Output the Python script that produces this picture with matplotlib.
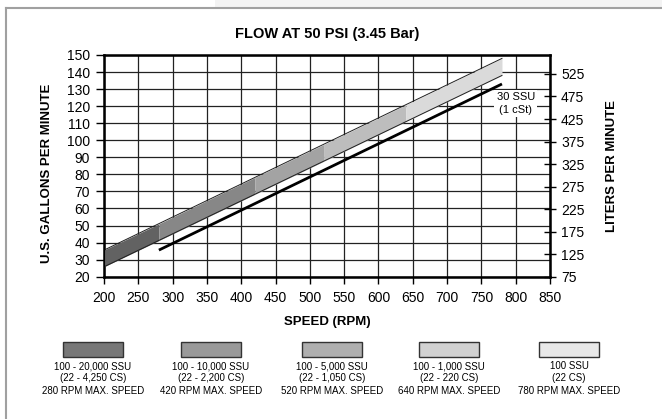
import numpy as np
import matplotlib.pyplot as plt
from matplotlib.patches import Rectangle

plt.rcParams['font.family'] = ['Liberation Sans', 'DejaVu Sans']

# band edges (gpm) read at each viscosity boundary (rpm)
band_rpm = [200, 280, 420, 520, 640, 780]
band_high = [35.6, 51.0, 78.2, 97.5, 120.8, 148.0]
band_low = [25.8, 41.2, 68.3, 87.6, 111.0, 138.0]
band_colors = ['#626262', '#878787', '#a3a3a3', '#bdbdbd', '#dadada']

# 30 SSU water line
water_rpm = [280, 780]
water_gpm = [35.6, 133.0]

legend_colors = ['#777777', '#999999', '#afafaf', '#d2d2d2', '#e8e8e8']
legend_labels = [
    '100 - 20,000 SSU\n(22 - 4,250 CS)\n280 RPM MAX. SPEED',
    '100 - 10,000 SSU\n(22 - 2,200 CS)\n420 RPM MAX. SPEED',
    '100 - 5,000 SSU\n(22 - 1,050 CS)\n520 RPM MAX. SPEED',
    '100 - 1,000 SSU\n(22 - 220 CS)\n640 RPM MAX. SPEED',
    '100 SSU\n(22 CS)\n780 RPM MAX. SPEED',
]

x_ticks = list(range(200, 851, 50))
y_ticks = list(range(20, 151, 10))
lpm_ticks = list(range(75, 526, 50))

W, H = 662, 419
fig = plt.figure(figsize=(W / 100, H / 100), dpi=100)

# page frame
fig.add_artist(Rectangle((215 / W, 1 - 8 / H), 1, 8 / H, transform=fig.transFigure,
                         facecolor='#f3f3f3', edgecolor='none'))
fig.add_artist(plt.Line2D([6 / W, 1], [1 - 8 / H, 1 - 8 / H], transform=fig.transFigure,
                          color='#a0a0a0', lw=1.5))
fig.add_artist(plt.Line2D([6 / W, 6 / W], [0, 1 - 8 / H], transform=fig.transFigure,
                          color='#a0a0a0', lw=1.5))

ax = fig.add_axes([104 / W, 1 - 276.7 / H, 446 / W, 221.7 / H])
ax.set_xlim(200, 850)
ax.set_ylim(20, 150)
ax.set_xticks(x_ticks)
ax.set_yticks(y_ticks)
ax.grid(True, color='#222222', lw=0.9)
ax.set_axisbelow(True)
ax.tick_params(axis='x', labelsize=10, length=5, width=1, direction='out', pad=5)
ax.tick_params(axis='y', labelsize=10, length=6, width=1, direction='out', pad=4)
for s in ax.spines.values():
    s.set_linewidth(1.8)

for i in range(len(band_colors)):
    ax.fill_between(band_rpm[i:i + 2], band_low[i:i + 2], band_high[i:i + 2],
                    color=band_colors[i], lw=0, zorder=3)
ax.plot([band_rpm[0], band_rpm[-1]], [band_high[0], band_high[-1]], color='#202020', lw=0.7, zorder=4)
ax.plot([band_rpm[0], band_rpm[-1]], [band_low[0], band_low[-1]], color='#202020', lw=0.7, zorder=4)
ax.plot(water_rpm, water_gpm, color='black', lw=2, zorder=4, solid_capstyle='butt')

ax.text(800, 121.4, '30 SSU\n(1 cSt)', ha='center', va='center', fontsize=8,
        linespacing=1.35, zorder=5,
        bbox=dict(facecolor='white', edgecolor='none', pad=1.5))

ax2 = ax.twinx()
ax2.set_ylim(75, 75 + 130 * 3.785)
ax2.set_yticks(lpm_ticks)
ax2.tick_params(axis='y', labelsize=10, length=8, width=1, direction='inout', pad=4)

fig.text(327 / W, 1 - 34 / H, 'FLOW AT 50 PSI (3.45 Bar)', ha='center', va='center',
         fontsize=10.5, fontweight='bold')
fig.text(327 / W, 1 - 322 / H, 'SPEED (RPM)', ha='center', va='center',
         fontsize=9.5, fontweight='bold')
fig.text(46.7 / W, 1 - 173 / H, 'U.S. GALLONS PER MINUTE', ha='center', va='center',
         rotation=90, fontsize=9.5, fontweight='bold')
fig.text(611.7 / W, 1 - 165.5 / H, 'LITERS PER MINUTE', ha='center', va='center',
         rotation=90, fontsize=9.5, fontweight='bold')

# legend swatches under the chart
centers = [93, 211, 332, 449, 569]
for cx, col, lab in zip(centers, legend_colors, legend_labels):
    fig.add_artist(Rectangle(((cx - 30) / W, 1 - 357 / H), 60 / W, 15 / H,
                             transform=fig.transFigure, facecolor=col,
                             edgecolor='#333333', lw=1))
    fig.text(cx / W, 1 - 361 / H, lab, ha='center', va='top', fontsize=7,
             linespacing=1.3)

fig.savefig('out.png', dpi=100)
